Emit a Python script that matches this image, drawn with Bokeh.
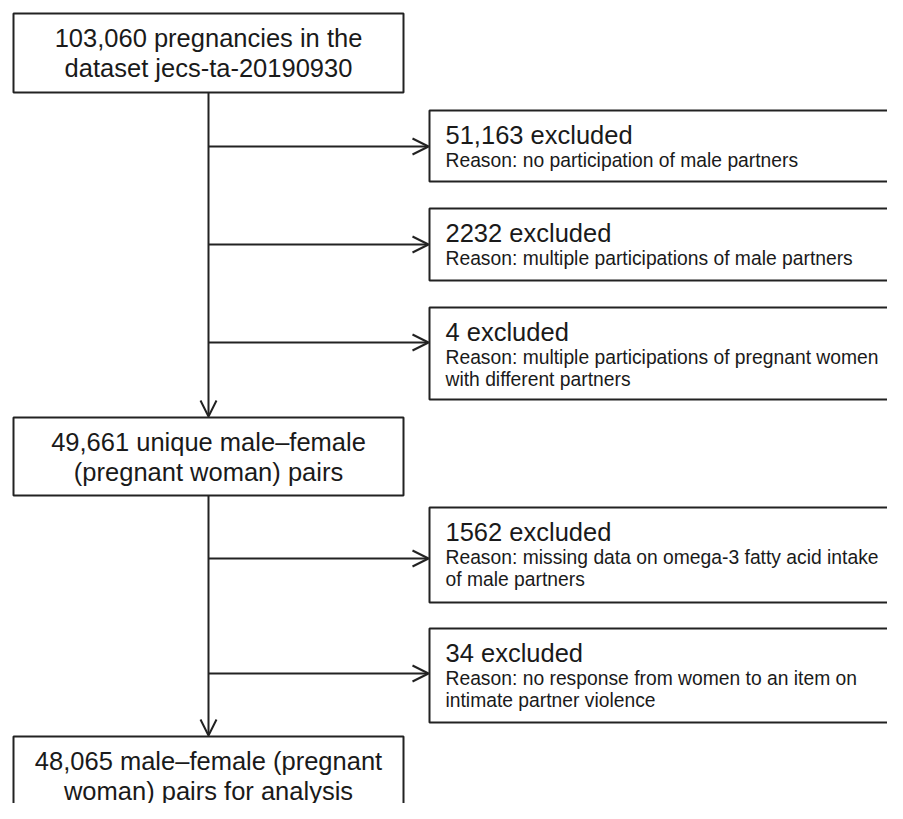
from bokeh.plotting import figure
from bokeh.models import Range1d, Arrow, OpenHead
from bokeh.core.properties import value
from bokeh.embed import file_html
from bokeh.resources import INLINE

# ---- data (flowchart content) ----
main_line1 = ["103,060 pregnancies in the", "49,661 unique male\u2013female", "48,065 male\u2013female (pregnant"]
main_line2 = ["dataset jecs-ta-20190930", "(pregnant woman) pairs", "woman) pairs for analysis"]
excluded_labels = ["51,163 excluded", "2232 excluded", "4 excluded", "1562 excluded", "34 excluded"]
reason_line1 = [
    "Reason: no participation of male partners",
    "Reason: multiple participations of male partners",
    "Reason: multiple participations of pregnant women",
    "Reason: missing data on omega-3 fatty acid intake",
    "Reason: no response from women to an item on",
]
reason_line2 = ["", "", "with different partners", "of male partners", "intimate partner violence"]

# ---- layout (pixel coordinates of the picture) ----
W, H = 887, 803
FONT = "Liberation Sans"
INK = "#1a1a1a"
LINE = "#222222"

main_left, main_right = 13, 403
main_top = [13, 417, 736]
main_bottom = [92, 495, 900]
excl_left = 429
excl_top = [110, 208, 307, 507, 628]
excl_bottom = [181, 280, 399, 602, 722]
arrow_y = [146, 244, 342, 558, 673]
spine_x = 208

p = figure(width=W, height=H, output_backend="svg", toolbar_location=None,
           x_range=Range1d(0, W), y_range=Range1d(H, 0),
           min_border=0, outline_line_color=None, background_fill_color="white",
           border_fill_color="white")
p.xaxis.visible = False
p.yaxis.visible = False
p.xgrid.visible = False
p.ygrid.visible = False

# main boxes
p.quad(left=[main_left] * 3, right=[main_right] * 3, top=main_top, bottom=main_bottom,
       fill_color="white", line_color=LINE, line_width=2)
# exclusion boxes (extend past right edge)
n = len(excluded_labels)
p.quad(left=[excl_left] * n, right=[1000] * n, top=excl_top, bottom=excl_bottom,
       fill_color="white", line_color=LINE, line_width=2)

head = dict(size=16, line_color=LINE, line_width=2)
# vertical spine with arrows
p.add_layout(Arrow(x_start=spine_x, y_start=main_bottom[0], x_end=spine_x, y_end=main_top[1] - 1,
                   line_color=LINE, line_width=2, end=OpenHead(**head)))
p.add_layout(Arrow(x_start=spine_x, y_start=main_bottom[1], x_end=spine_x, y_end=main_top[2] - 1,
                   line_color=LINE, line_width=2, end=OpenHead(**head)))
# horizontal arrows
for yy in arrow_y:
    p.add_layout(Arrow(x_start=spine_x, y_start=yy, x_end=excl_left - 1, y_end=yy,
                       line_color=LINE, line_width=2, end=OpenHead(**head)))

# main texts
cx = (main_left + main_right) / 2
l1y = [t + 24 for t in main_top]
l2y = [t + 54 for t in main_top]
p.text(x=[cx] * 3, y=l1y, text=main_line1, text_align="center", text_baseline="middle",
       text_font=value(FONT), text_font_size="25.5px", text_color=INK)
p.text(x=[cx] * 3, y=l2y, text=main_line2, text_align="center", text_baseline="middle",
       text_font=value(FONT), text_font_size="25.5px", text_color=INK)

# exclusion texts
tx = 445
p.text(x=[tx] * n, y=[t + 24 for t in excl_top], text=excluded_labels, text_align="left",
       text_baseline="middle", text_font=value(FONT), text_font_size="25.5px", text_color=INK)
p.text(x=[tx] * n, y=[t + 50 for t in excl_top], text=reason_line1, text_align="left",
       text_baseline="middle", text_font=value(FONT), text_font_size="19.3px", text_color=INK)
p.text(x=[tx] * n, y=[t + 72 for t in excl_top], text=reason_line2, text_align="left",
       text_baseline="middle", text_font=value(FONT), text_font_size="19.3px", text_color=INK)

open("out.html", "w").write(file_html(p, INLINE))
